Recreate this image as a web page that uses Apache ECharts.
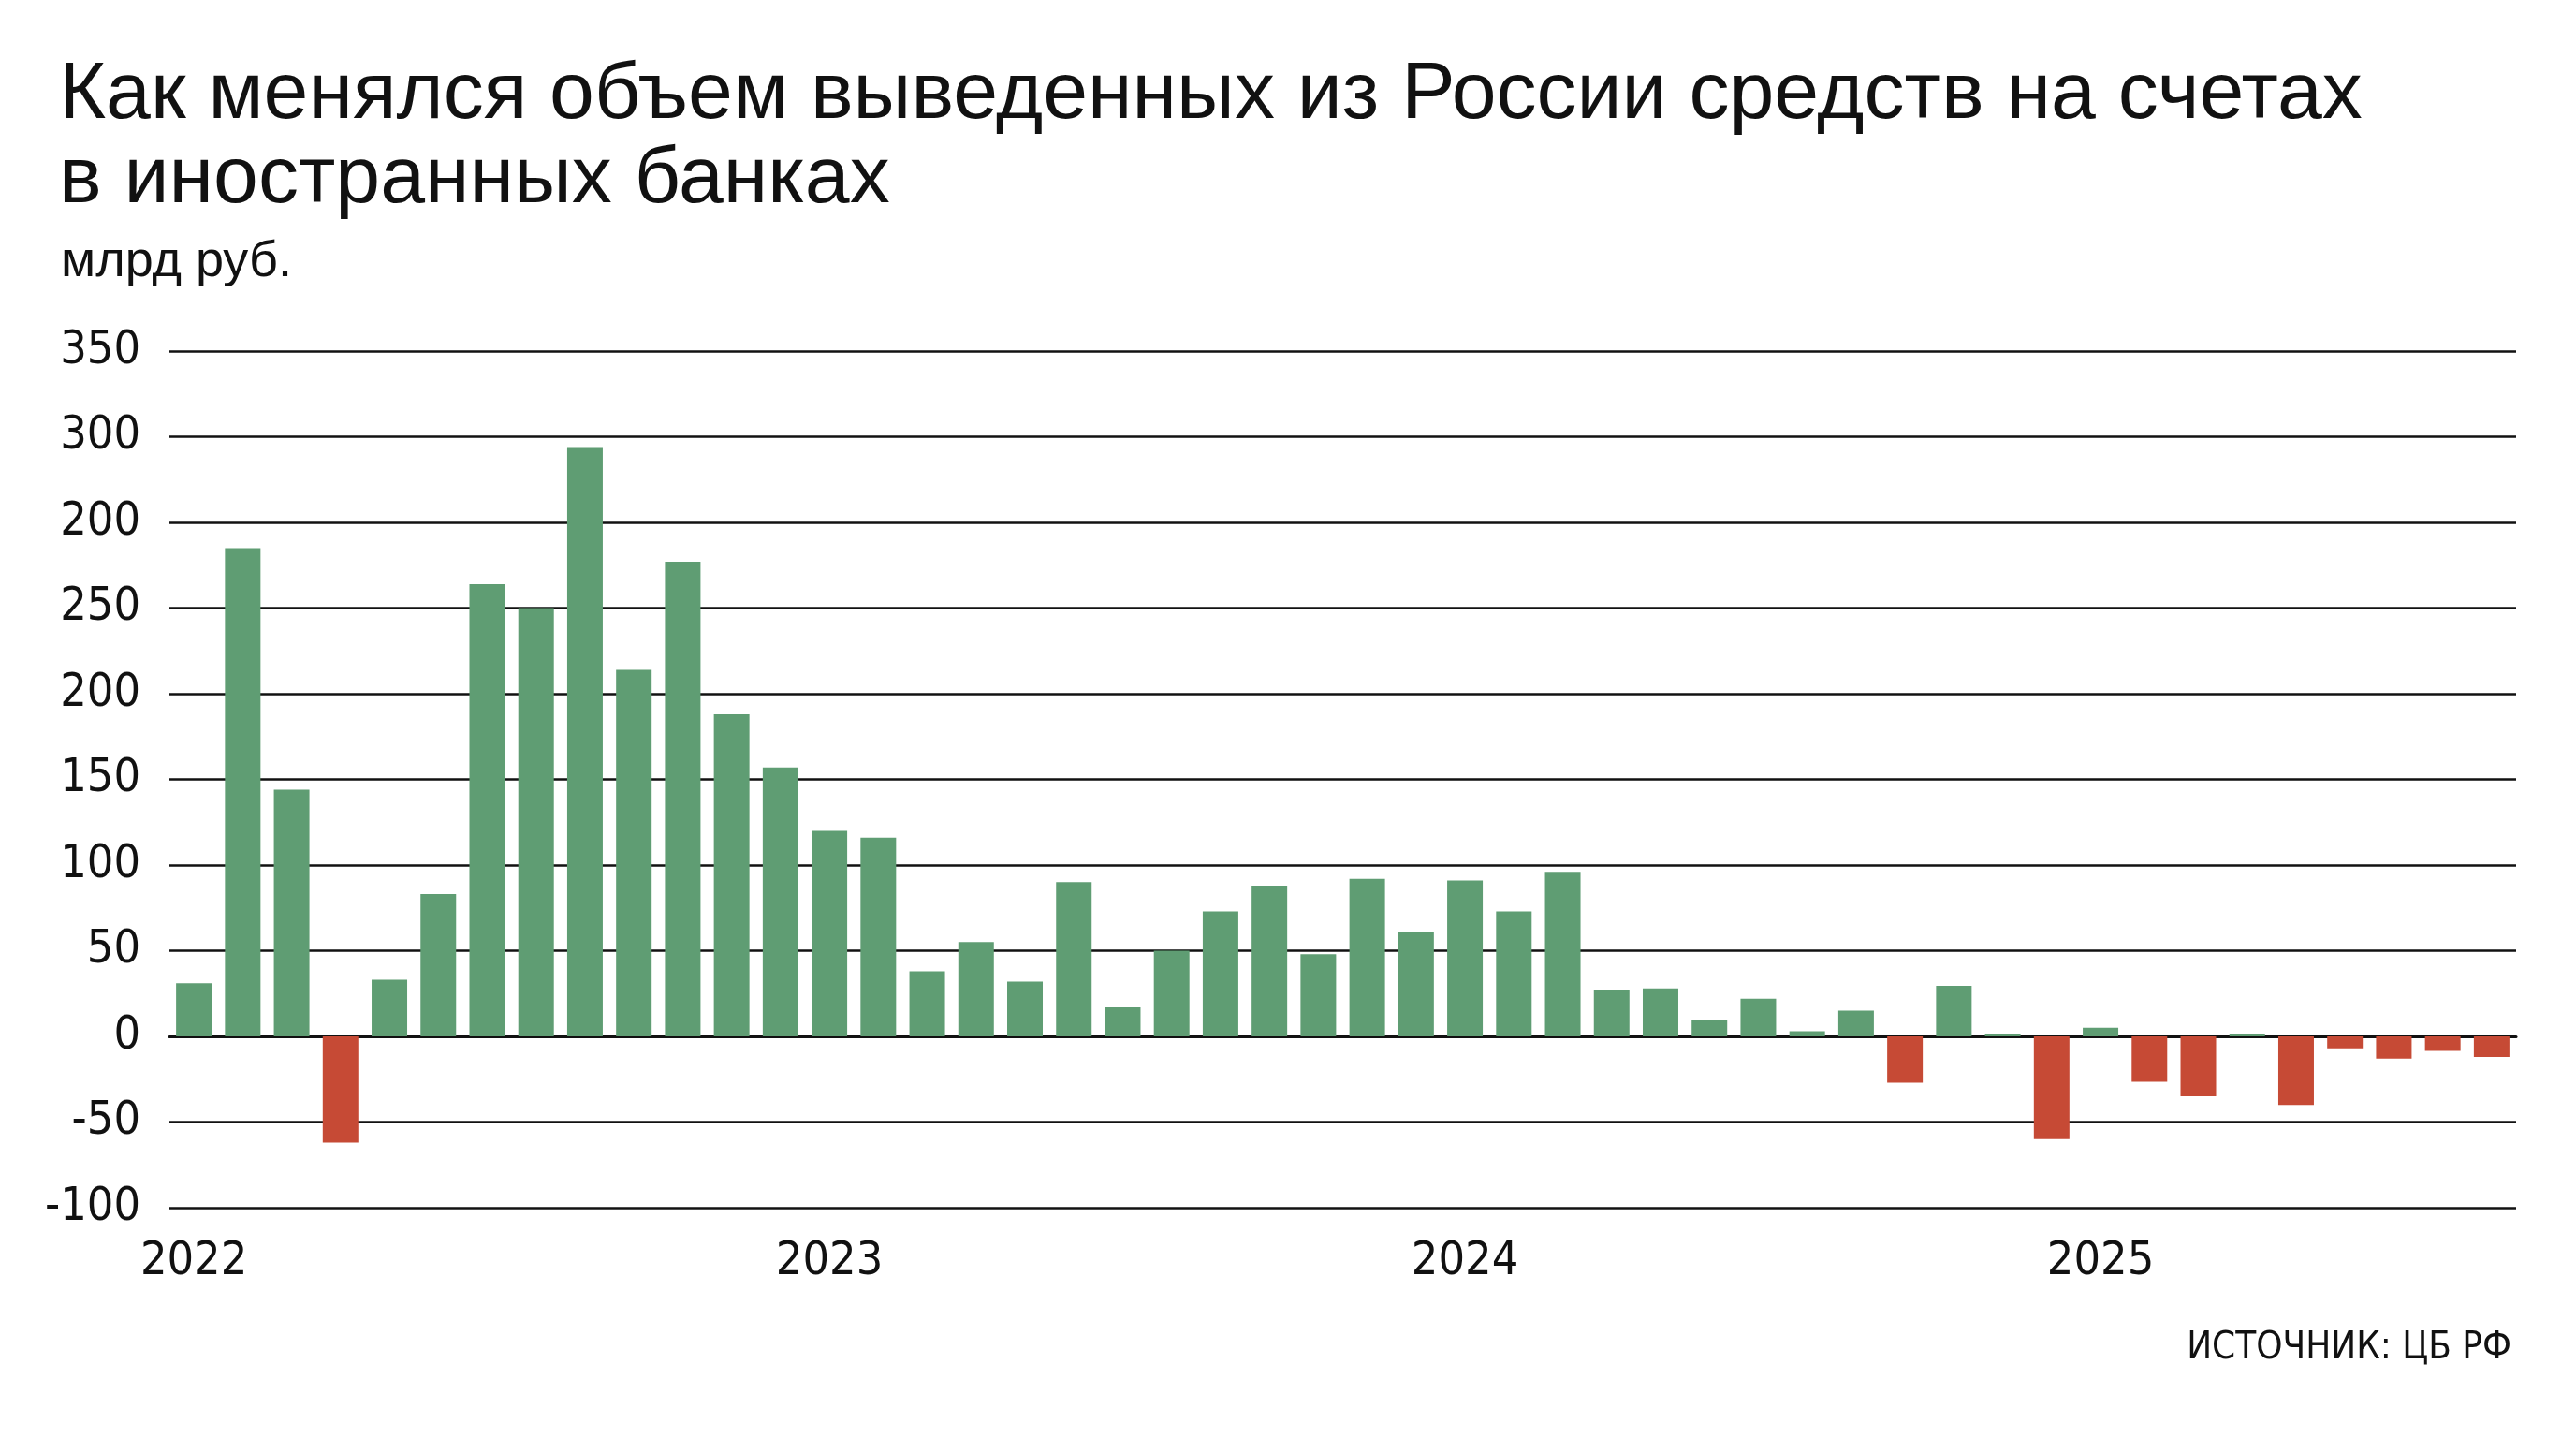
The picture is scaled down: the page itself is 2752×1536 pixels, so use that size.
<!DOCTYPE html>
<html>
<head>
<meta charset="utf-8">
<title>Выведенные средства</title>
<script src="https://cdn.jsdelivr.net/npm/echarts@6/dist/echarts.min.js"></script>
<style>
  html, body { margin: 0; padding: 0; background: #fff; }
  #main { width: 2752px; height: 1536px; }
</style>
</head>
<body>
<div id="main"></div>
<script>
// monthly values, bn rub, Jan 2022 .. Dec 2025
var months = [];
for (var y = 2022; y <= 2025; y++) {
    for (var m = 1; m <= 12; m++) {
        months.push((m < 10 ? '0' + m : '' + m) + '.' + y);
    }
}
var values = [
    31, 285, 144, -62, 33, 83, 264, 250, 344, 214, 277, 188,
    157, 120, 116, 38, 55, 32, 90, 17, 50, 73, 88, 48,
    92, 61, 91, 73, 96, 27, 28, 9.5, 22, 3, 15, -27,
    29.5, 1.6, -60, 5, -26.5, -35, 1.4, -40, -7, -13, -8.5, -12
];
// year captions and the bar they sit under
var yearLabels = ['2022', '2023', '2024', '2025'];
var yearIndex = [0, 13, 26, 39];
// y tick labels bottom to top, as printed on the original
var yTickLabels = ['-100', '-50', '0', '50', '100', '150', '200', '250', '200', '300', '350'];
var yMin = -100, yMax = 400, yStep = 50;

var green = '#5f9d73';
var red = '#c64a35';
var ink = '#111111';
var wideFont = "'Liberation Sans', Arial, sans-serif";
var narrowFont = "'Liberation Sans Narrow', 'Arial Narrow', 'DejaVu Sans Condensed', sans-serif";

var chart = echarts.init(document.getElementById('main'));

var option = {
    backgroundColor: '#ffffff',
    animation: false,
    title: [
        {
            text: 'Как менялся объем выведенных из России средств на счетах\nв иностранных банках',
            left: 58, top: 52,
            textStyle: { fontFamily: wideFont, fontSize: 86, fontWeight: 'normal', lineHeight: 90, color: ink }
        },
        {
            text: 'млрд руб.',
            left: 60, top: 248,
            textStyle: { fontFamily: wideFont, fontSize: 54, fontWeight: 'normal', lineHeight: 54, color: ink }
        },
        {
            text: 'ИСТОЧНИК: ЦБ РФ',
            right: 64, top: 1416,
            textStyle: { fontFamily: narrowFont, fontSize: 40, fontWeight: 'normal', lineHeight: 40, color: ink }
        }
    ],
    grid: { left: 181, right: 64, top: 375, bottom: 246, containLabel: false },
    xAxis: {
        type: 'category',
        data: months,
        boundaryGap: true,
        axisLine: { show: true, onZero: true, lineStyle: { color: ink, width: 3 } },
        axisTick: { show: false },
        axisLabel: {
            interval: 0,
            margin: 33,
            fontFamily: narrowFont,
            fontSize: 50,
            color: ink,
            formatter: function (val, idx) {
                var k = yearIndex.indexOf(idx);
                return k === -1 ? '' : yearLabels[k];
            }
        },
        splitLine: { show: false }
    },
    yAxis: {
        type: 'value',
        min: yMin, max: yMax, interval: yStep,
        axisLine: { show: false },
        axisTick: { show: false },
        axisLabel: {
            margin: 31,
            fontFamily: narrowFont,
            fontSize: 50,
            color: ink,
            formatter: function (val) {
                var i = Math.round((val - yMin) / yStep);
                return yTickLabels[i] || '';
            }
        },
        splitLine: { show: true, lineStyle: { color: ink, width: 2.5 } }
    },
    series: [{
        type: 'bar',
        data: values,
        barWidth: 38,
        itemStyle: {
            color: function (p) { return p.value >= 0 ? green : red; }
        }
    }]
};

chart.setOption(option);
</script>
</body>
</html>
